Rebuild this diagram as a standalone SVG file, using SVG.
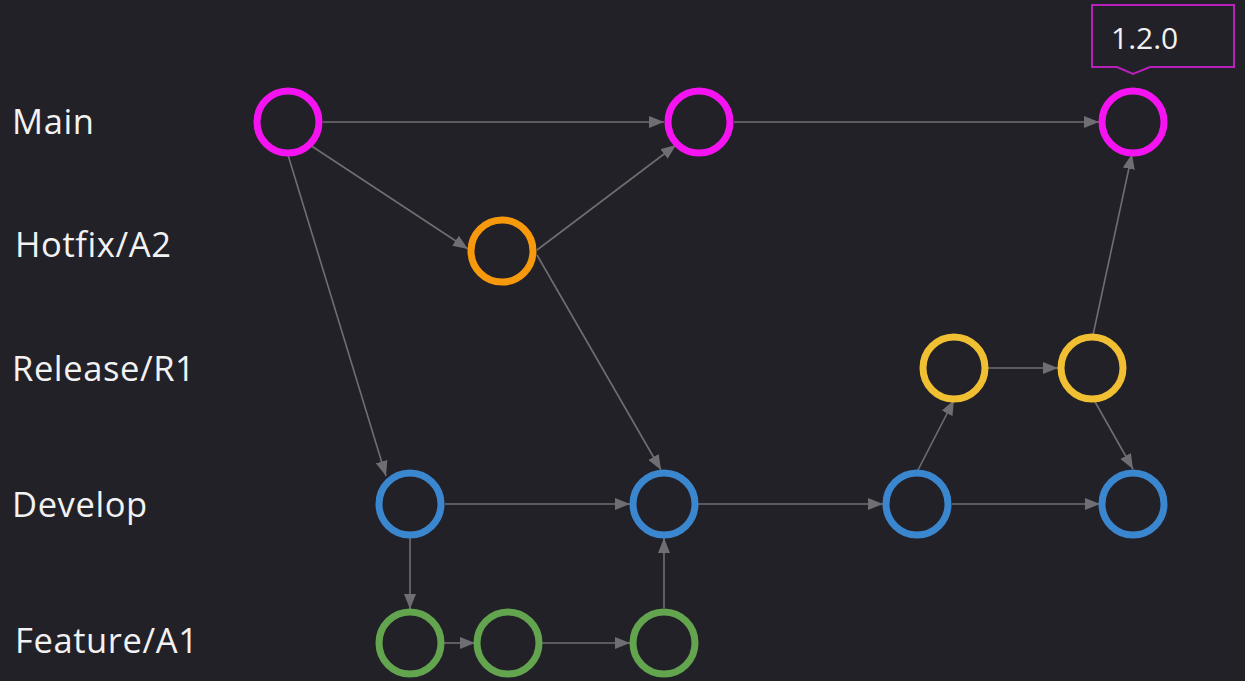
<svg xmlns="http://www.w3.org/2000/svg" width="1245" height="681" viewBox="0 0 1245 681">
<style>
.lbl{font-family:"Open Sans","Noto Sans","Liberation Sans",sans-serif;font-size:34.5px;fill:#f2f2f2;letter-spacing:0.6px;}
.n{fill:none;stroke-width:7;}
.main{stroke:#f613f1;}
.hot{stroke:#f7990c;}
.rel{stroke:#f0c032;}
.dev{stroke:#3b87cf;}
.feat{stroke:#63a44e;}
.e{stroke:#6f6e72;stroke-width:1.6;fill:none;marker-end:url(#ah);}
</style>
<defs>
<marker id="ah" markerUnits="userSpaceOnUse" markerWidth="16" markerHeight="12" refX="15" refY="6" orient="auto">
<path d="M0,0 L15,6 L0,12 Z" fill="#6f6e72"/>
</marker>
</defs>
<rect x="0" y="0" width="1245" height="681" fill="#232128"/>
<g id="labels">
<text class="lbl" x="12" y="134">Main</text>
<text class="lbl" x="15" y="257">Hotfix/A2</text>
<text class="lbl" x="12" y="381">Release/R1</text>
<text class="lbl" x="12" y="517">Develop</text>
<text class="lbl" x="15" y="653">Feature/A1</text>
</g>
<g id="connectors">
<line class="e" x1="323" y1="122" x2="664" y2="122"/>
<line class="e" x1="310" y1="145" x2="468" y2="249"/>
<line class="e" x1="288" y1="155" x2="386" y2="476"/>
<line class="e" x1="537" y1="250" x2="676" y2="145"/>
<line class="e" x1="537" y1="255" x2="661" y2="470"/>
<line class="e" x1="734" y1="122" x2="1099" y2="122"/>
<line class="e" x1="445" y1="504" x2="630" y2="504"/>
<line class="e" x1="410" y1="538" x2="410" y2="609"/>
<line class="e" x1="443" y1="643" x2="475" y2="643"/>
<line class="e" x1="541" y1="643" x2="630" y2="643"/>
<line class="e" x1="664" y1="608" x2="664" y2="538"/>
<line class="e" x1="698" y1="504" x2="883" y2="504"/>
<line class="e" x1="918" y1="470" x2="954" y2="400"/>
<line class="e" x1="987" y1="368" x2="1058" y2="368"/>
<line class="e" x1="1093" y1="335" x2="1132" y2="154"/>
<line class="e" x1="1094" y1="400" x2="1133" y2="469"/>
<line class="e" x1="952" y1="504" x2="1100" y2="504"/>
</g>
<g id="main1"><circle class="n main" cx="288" cy="122" r="31"/></g>
<g id="main2"><circle class="n main" cx="699" cy="122" r="31"/></g>
<g id="main3"><circle class="n main" cx="1133" cy="122" r="31"/></g>
<g id="hotfix1"><circle class="n hot" cx="502" cy="251" r="31"/></g>
<g id="release1"><circle class="n rel" cx="954" cy="368" r="31"/></g>
<g id="release2"><circle class="n rel" cx="1092" cy="368" r="31"/></g>
<g id="develop1"><circle class="n dev" cx="410" cy="504" r="31"/></g>
<g id="develop2"><circle class="n dev" cx="664" cy="504" r="31"/></g>
<g id="develop3"><circle class="n dev" cx="917" cy="504" r="31"/></g>
<g id="develop4"><circle class="n dev" cx="1133" cy="504" r="31"/></g>
<g id="feature1"><circle class="n feat" cx="410" cy="643" r="31"/></g>
<g id="feature2"><circle class="n feat" cx="508" cy="643" r="31"/></g>
<g id="feature3"><circle class="n feat" cx="664" cy="643" r="31"/></g>
<g id="tag">
<path d="M1092,5 H1234 V67 H1150 L1133,74 L1117,67 H1092 Z" fill="#232128" stroke="#b820bb" stroke-width="2"/>
<text x="1111" y="49" font-family="'Open Sans','Noto Sans','Liberation Sans',sans-serif" font-size="30" fill="#f2f2f2">1.2.0</text>
</g>
</svg>
